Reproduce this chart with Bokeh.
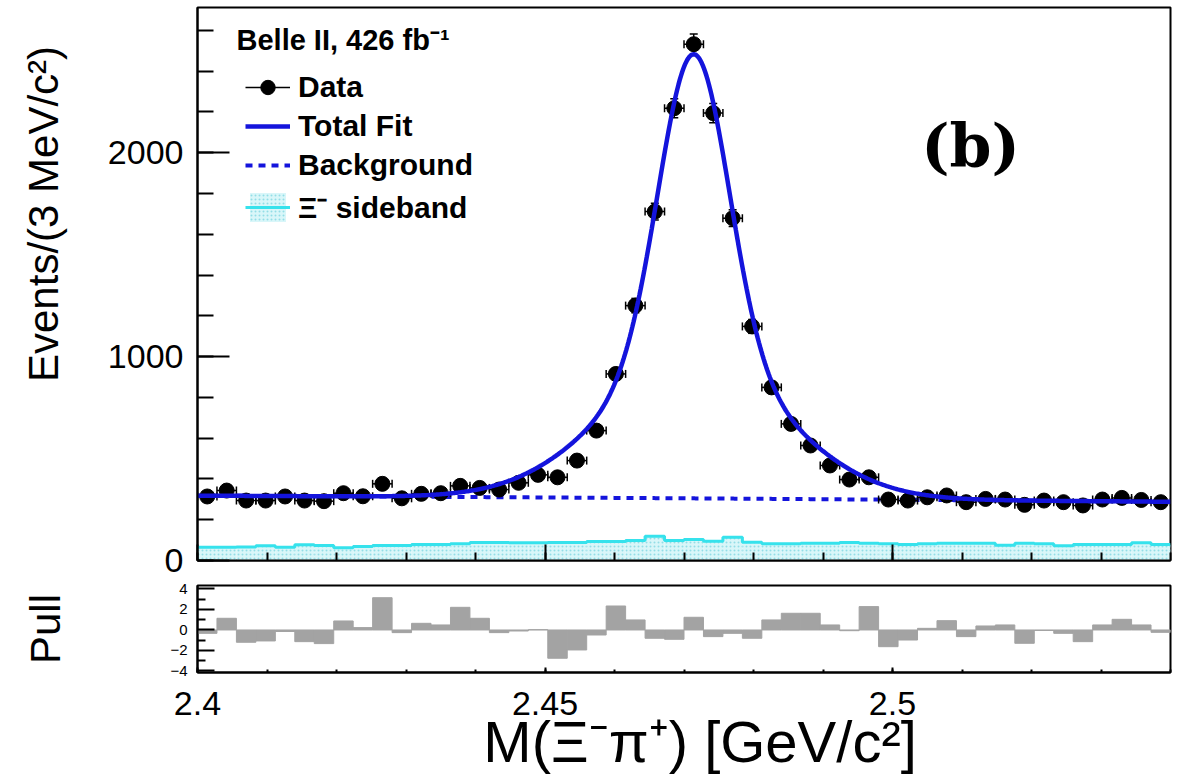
import numpy as np
from bokeh.plotting import figure
from bokeh.layouts import column
from bokeh.models import (FixedTicker, Label, Legend, LegendItem, Range1d,
                          CustomJSTickFormatter, LinearAxis)
from bokeh.embed import file_html
from bokeh.resources import INLINE

# ---------------- data ----------------
m_lo, m_hi, n_bins = 2.40, 2.54, 50

data_counts = [314, 343, 294, 294, 314, 294, 291, 330, 315, 376,
               305, 327, 330, 366, 356, 348, 381, 420, 408, 490,
               637, 915, 1250, 1711, 2218, 2532, 2194, 1679, 1148, 849,
               670, 564, 466, 397, 408, 299, 294, 310, 319, 286,
               302, 299, 273, 294, 286, 270, 299, 307, 297, 286]

sideband_counts = [65, 65, 66, 72, 65, 77, 74, 62, 69, 74,
                   74, 79, 79, 82, 88, 88, 87, 87, 88, 88,
                   93, 93, 98, 119, 98, 103, 95, 114, 90, 82,
                   82, 85, 85, 88, 85, 82, 78, 82, 85, 85,
                   85, 75, 85, 82, 72, 78, 78, 78, 87, 78]

pulls = [-0.33, 1.14, -1.20, -1.07, -0.15, -1.14, -1.33, 0.88, 0.23, 3.15,
         -0.26, 0.65, 0.49, 2.21, 1.14, -0.26, -0.10, 0.03, -2.76, -1.95,
         -0.49, 2.34, 0.98, -0.81, -0.91, 1.24, -0.65, -0.33, -0.81, 0.98,
         1.63, 1.63, 0.49, -0.07, 2.28, -1.63, -0.98, 0.16, 0.91, -0.65,
         0.39, 0.49, -1.30, -0.05, -0.33, -1.14, 0.49, 1.04, 0.49, -0.23]

# fit model: double Gaussian signal on a quadratic background
peak_mean = 2.4714
sig_amp = 2178.0
sig_core = 0.0050
sig_tail = 0.0130
tail_frac = 0.30
bkg_coef = [318.0, -22.0, -8.0]   # in t = (m - 2.40) / 0.14

y_ticks = [0, 1000, 2000]
y_minor = list(range(0, 2800, 200))
x_ticks = [2.4, 2.45, 2.5]
x_minor = [round(2.40 + 0.01 * i, 2) for i in range(15)]
pull_ticks = [-4, -2, 0, 2, 4]
pull_minor = [-3, -1, 1, 3]

# ---------------- derived arrays ----------------
edges = np.linspace(m_lo, m_hi, n_bins + 1)
centers = 0.5 * (edges[:-1] + edges[1:])
counts = np.array(data_counts, dtype=float)
errs = np.sqrt(counts)
side = np.array(sideband_counts, dtype=float)

m_fine = np.linspace(m_lo, m_hi, 800)
t = (m_fine - m_lo) / (m_hi - m_lo)
bkg = bkg_coef[0] + bkg_coef[1] * t + bkg_coef[2] * t ** 2
d = m_fine - peak_mean
sig = sig_amp * ((1 - tail_frac) * np.exp(-0.5 * (d / sig_core) ** 2)
                 + tail_frac * np.exp(-0.5 * (d / sig_tail) ** 2))
total = bkg + sig

FONT = "Liberation Sans"
W = 1185
FIT_BLUE = "#1414dc"
CYAN = "#36e2ec"
NBSP = "\u00a0"

# frame geometry (canvas pixels)
FL, FR = 197, 1170
MAIN_TOP, MAIN_BOT, MAIN_H = 7, 560, 580
Y_MAX = 2712
PULL_LO, PULL_HI = -4.15, 4.34
PULL_TOP, PULL_BOT, PULL_H = 5, 92, 202


def to_x(cx):
    return m_lo + (cx - FL) / (FR - FL) * (m_hi - m_lo)


def main_y(cy):
    return (MAIN_BOT - cy) / (MAIN_BOT - MAIN_TOP) * Y_MAX


def style_axes(fig):
    fig.xgrid.visible = False
    fig.ygrid.visible = False
    fig.outline_line_color = "black"
    fig.outline_line_width = 2
    fig.background_fill_color = "white"
    fig.border_fill_color = "white"
    for ax in (fig.xaxis[0], fig.yaxis[0]):
        ax.major_tick_out = 0
        ax.minor_tick_out = 0
        ax.axis_line_width = 2
        ax.major_tick_line_width = 2
        ax.minor_tick_line_width = 2
        ax.major_label_text_font = FONT
        ax.major_label_text_color = "black"
        ax.axis_label_text_font = FONT
        ax.axis_label_text_font_style = "normal"
        ax.axis_label_text_color = "black"


# ---------------- main panel ----------------
p = figure(width=W, height=MAIN_H, x_range=Range1d(m_lo, m_hi),
           y_range=Range1d(0, Y_MAX), output_backend="svg", toolbar_location=None,
           min_border_left=FL, min_border_right=W - FR,
           min_border_top=MAIN_TOP, min_border_bottom=MAIN_H - MAIN_BOT)
style_axes(p)

p.yaxis.ticker = FixedTicker(ticks=y_ticks, minor_ticks=y_minor)
p.yaxis.major_tick_in = 32
p.yaxis.minor_tick_in = 16
p.yaxis.major_label_text_font_size = "34px"
p.yaxis.major_label_standoff = 14
# leading no-break spaces lift the title toward the top of the axis
p.yaxis.axis_label = NBSP * 12 + "Events/(3 MeV/c\u00b2)"
p.yaxis.axis_label_text_font_size = "42px"
p.yaxis.axis_label_standoff = 38

# unlabeled bottom axis: short ticks every 10 MeV, long ticks at the labelled values
p.xaxis.ticker = FixedTicker(ticks=[], minor_ticks=x_minor)
p.xaxis.minor_tick_in = 8
p.xaxis.major_label_standoff = 0
long_ticks = LinearAxis(ticker=FixedTicker(ticks=[], minor_ticks=x_ticks),
                        minor_tick_in=16, minor_tick_out=0, major_tick_out=0,
                        minor_tick_line_width=2, major_label_standoff=0,
                        axis_line_color=None)
p.add_layout(long_ticks, "below")

# Xi- sideband histogram
r_side_fill = p.quad(left=edges[:-1], right=edges[1:], bottom=0, top=side,
                     fill_color="#d9f6f9", line_color=None,
                     hatch_pattern="dot", hatch_color="#93dde6",
                     hatch_scale=4, hatch_weight=1.2)
r_side_line = p.step(x=edges, y=np.append(side, side[-1]), mode="after",
                     line_color=CYAN, line_width=3)

# background component
r_bkg = p.line(m_fine, bkg, line_color=FIT_BLUE, line_width=4, line_dash="7 6")

# data with error bars
r_hbar = p.segment(x0=edges[:-1], y0=counts, x1=edges[1:], y1=counts,
                   line_color="black", line_width=1.5)
p.segment(x0=centers, y0=counts - errs, x1=centers, y1=counts + errs,
          line_color="black", line_width=1.5)
p.scatter(np.concatenate([edges[:-1], edges[1:]]), np.concatenate([counts, counts]),
          marker="dash", angle=np.pi / 2, size=8, line_color="black", line_width=1.5)
p.scatter(np.concatenate([centers, centers]),
          np.concatenate([counts - errs, counts + errs]),
          marker="dash", size=8, line_color="black", line_width=1.5)
r_pts = p.scatter(centers, counts, size=15, fill_color="black", line_color="black")

# total fit
r_fit = p.line(m_fine, total, line_color=FIT_BLUE, line_width=4.5)

legend = Legend(items=[
    LegendItem(label="Data", renderers=[r_hbar, r_pts]),
    LegendItem(label="Total Fit", renderers=[r_fit]),
    LegendItem(label="Background", renderers=[r_bkg]),
    LegendItem(label="\u039e\u207b sideband", renderers=[r_side_fill, r_side_line]),
], location=(48, MAIN_BOT - 227), padding=0, margin=0,
    spacing=3, glyph_width=45, glyph_height=36, label_height=36,
    label_standoff=8, label_text_font=FONT, label_text_font_size="30px",
    label_text_font_style="bold", label_text_color="black",
    border_line_alpha=0, background_fill_alpha=0)
p.add_layout(legend)

p.add_layout(Label(x=to_x(236), y=main_y(39), text="Belle II, 426 fb\u207b\u00b9",
                   text_font=FONT, text_font_size="29px", text_font_style="bold",
                   text_align="left", text_baseline="middle", text_color="black"))
p.add_layout(Label(x=to_x(970), y=main_y(145), text="(b)",
                   text_font="DejaVu Serif", text_font_size="60px", text_font_style="bold",
                   text_align="center", text_baseline="middle", text_color="black"))

# ---------------- pull panel ----------------
q = figure(width=W, height=PULL_H, x_range=p.x_range, y_range=Range1d(PULL_LO, PULL_HI),
           output_backend="svg", toolbar_location=None,
           min_border_left=FL, min_border_right=W - FR,
           min_border_top=PULL_TOP, min_border_bottom=PULL_H - PULL_BOT)
style_axes(q)

q.quad(left=edges[:-1], right=edges[1:], bottom=0, top=pulls,
       fill_color="#a3a3a3", line_color="#a3a3a3", line_width=1)

q.yaxis.ticker = FixedTicker(ticks=pull_ticks, minor_ticks=pull_minor)
q.yaxis.major_tick_in = 17
q.yaxis.minor_tick_in = 8
q.yaxis.major_label_text_font_size = "15px"
q.yaxis.major_label_standoff = 10
q.yaxis.formatter = CustomJSTickFormatter(
    code="return tick < 0 ? '\\u2212' + (-tick) : '' + tick;")
q.yaxis.axis_label = "Pull"
q.yaxis.axis_label_text_font_size = "42px"
q.yaxis.axis_label_standoff = 98

q.xaxis.ticker = FixedTicker(ticks=x_ticks, minor_ticks=x_minor)
q.xaxis.major_tick_in = 5
q.xaxis.minor_tick_in = 3
q.xaxis.major_label_text_font_size = "34px"
q.xaxis.major_label_standoff = 19
q.xaxis.formatter = CustomJSTickFormatter(code="return '' + tick;")
# leading no-break spaces shift the title slightly right of the frame centre
q.xaxis.axis_label = NBSP * 2 + "M(\u039e\u207b\u03c0\u207a) [GeV/c\u00b2]"
q.xaxis.axis_label_text_font_size = "58px"
q.xaxis.axis_label_standoff = -9

layout = column(p, q, spacing=0)
open("out.html", "w").write(file_html(layout, INLINE))
